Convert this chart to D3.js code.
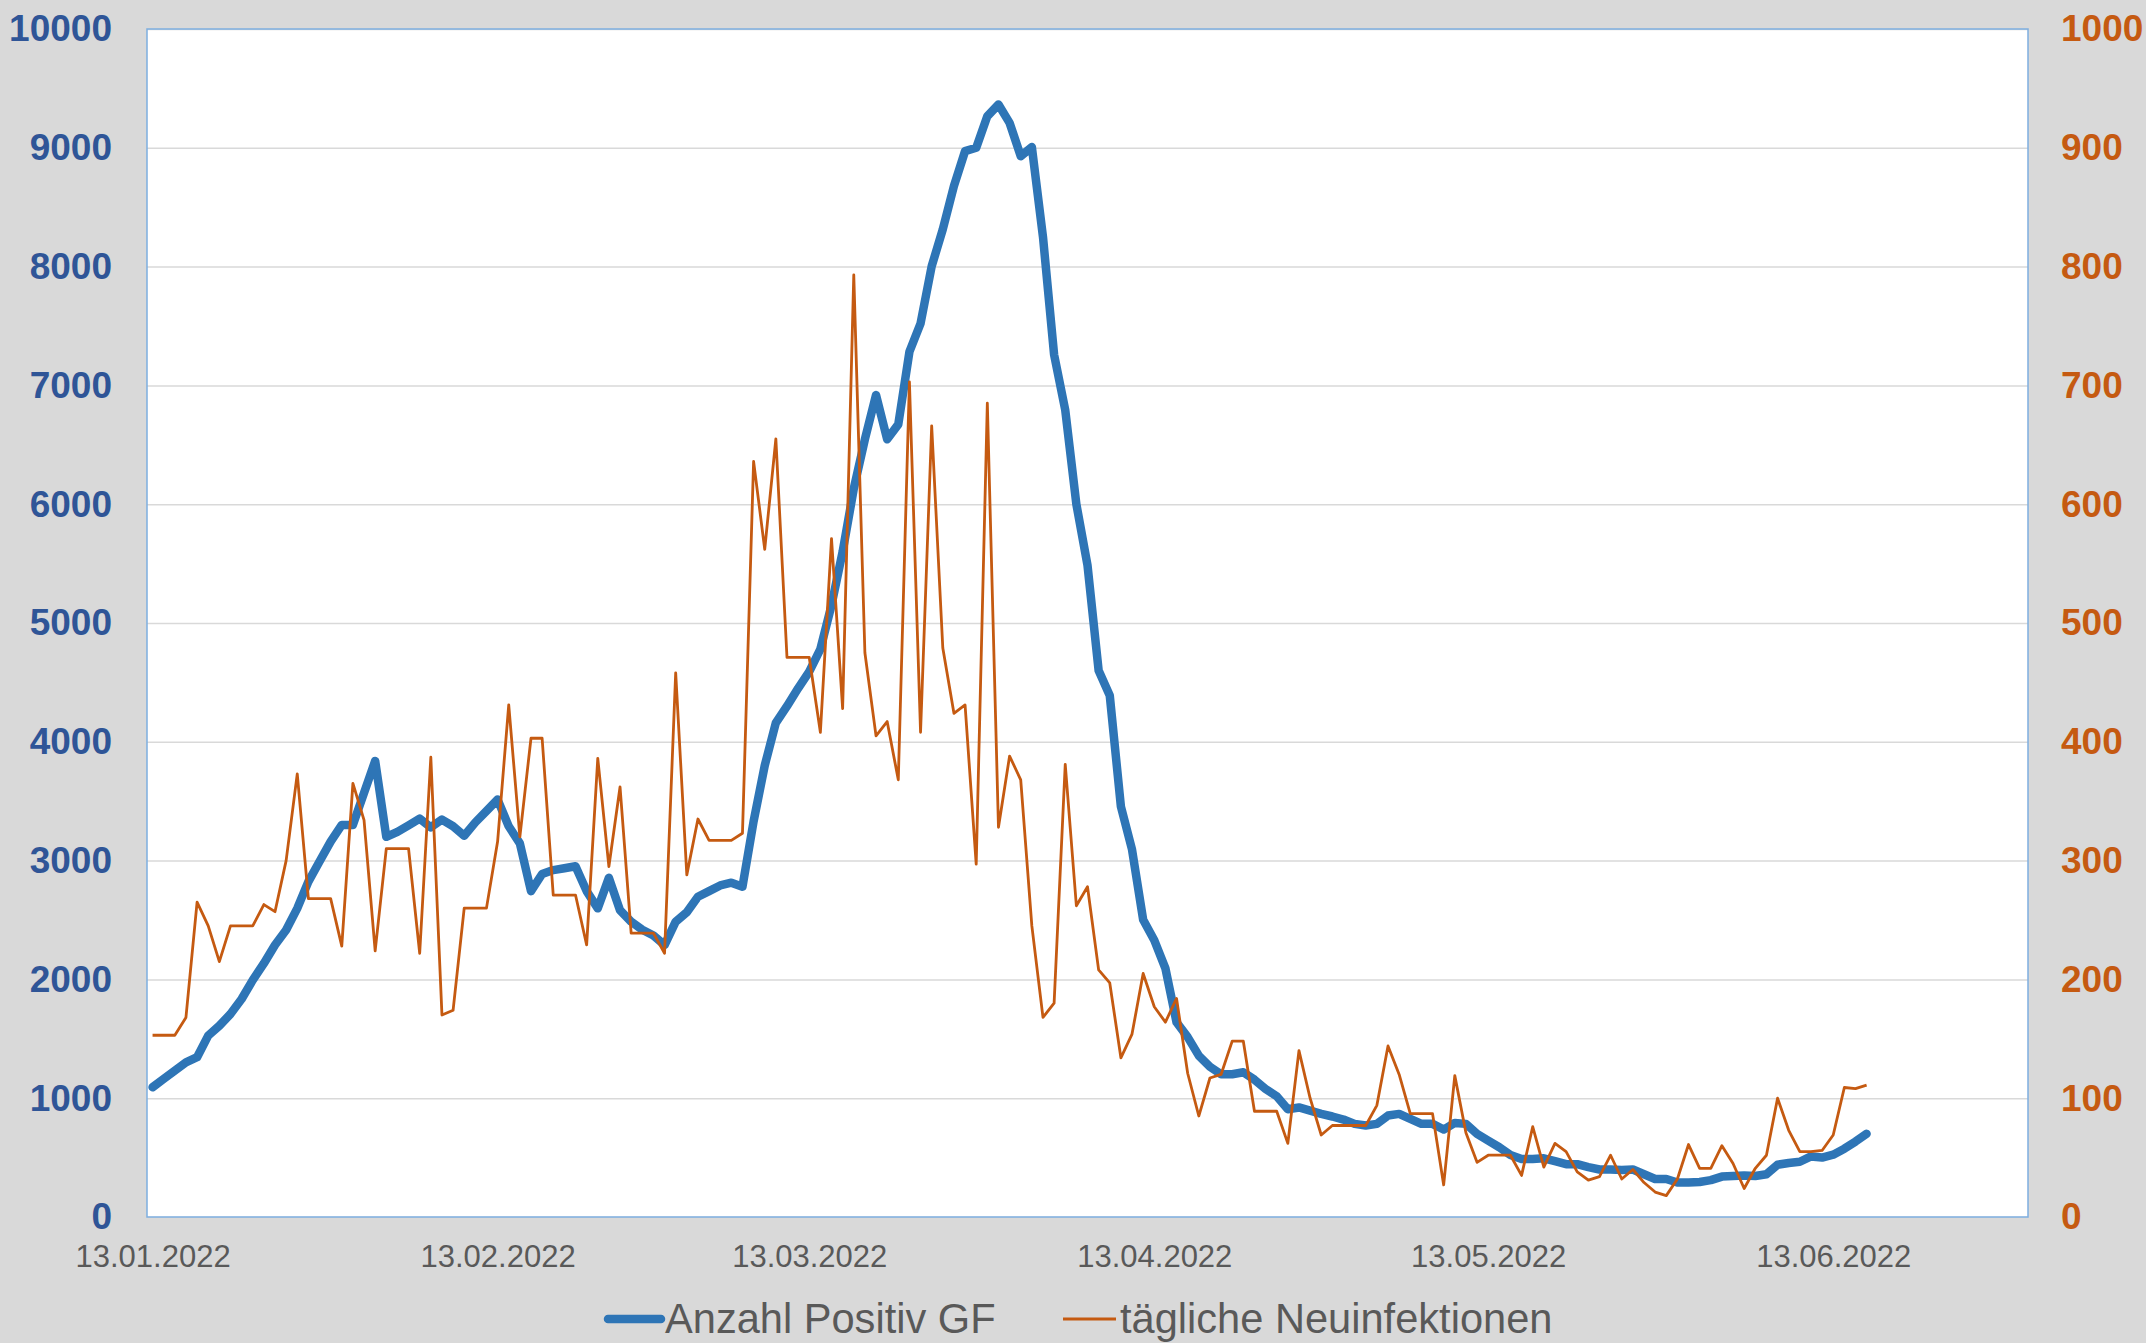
<!DOCTYPE html>
<html>
<head>
<meta charset="utf-8">
<script src="https://cdn.jsdelivr.net/npm/d3@7"></script>
<style>
  html, body { margin: 0; padding: 0; background: #d9d9d9; }
  svg { display: block; font-family: Arial, "Liberation Sans", sans-serif; }
</style>
</head>
<body>
<div id="my_dataviz"></div>
<script>
// first day of both series, one value per day
let firstDay = "2022-01-13";
let lastAxisDay = "2022-06-30";

let seriesNames = ["Anzahl Positiv GF", "tägliche Neuinfektionen"];

// Anzahl Positiv GF (left axis)
let positivGF = [
    1092, 1162, 1232, 1302, 1345, 1527, 1610, 1709, 1835, 1994,
    2134, 2290, 2416, 2598, 2823, 2992, 3160, 3300, 3300, 3570,
    3839, 3200, 3242, 3297, 3353, 3280, 3345, 3289, 3209, 3322,
    3418, 3514, 3289, 3145, 2743, 2887, 2920, 2936, 2952, 2743,
    2598, 2855, 2582, 2486, 2418, 2370, 2289, 2486, 2566, 2695,
    2743, 2791, 2814, 2780, 3330, 3800, 4160, 4300, 4450, 4590,
    4780, 5150, 5600, 6130, 6546, 6919, 6546, 6672, 7283, 7521,
    8003, 8314, 8678, 8972, 9000, 9266, 9364, 9210, 8930, 9006,
    8250, 7258, 6793, 6000, 5486, 4600, 4390, 3455, 3093, 2502,
    2330, 2093, 1639, 1514, 1358, 1265, 1202, 1202, 1218, 1156,
    1078, 1016, 907, 922, 896, 868, 846, 820, 784, 770,
    784, 854, 868, 826, 784, 784, 736, 792, 784, 699,
    643, 587, 522, 489, 489, 494, 470, 445, 445, 420,
    400, 400, 395, 400, 360, 320, 320, 290, 290, 295,
    310, 340, 345, 350, 345, 360, 440, 455, 465, 510,
    500, 525, 575, 635, 700
];

// tägliche Neuinfektionen (right axis)
let neuinfektionen = [
    153, 153, 153, 168, 265, 245, 215, 245, 245, 245,
    263, 257, 300, 373, 268, 268, 268, 228, 365, 334,
    224, 310, 310, 310, 222, 387, 170, 174, 260, 260,
    260, 316, 431, 320, 403, 403, 271, 271, 271, 229,
    386, 295, 362, 239, 239, 239, 222, 458, 288, 335,
    317, 317, 317, 323, 636, 562, 655, 471, 471, 471,
    408, 571, 428, 793, 475, 405, 417, 368, 703, 408,
    666, 479, 424, 431, 297, 685, 328, 388, 368, 245,
    168, 180, 381, 262, 278, 208, 197, 134, 154, 205,
    177, 164, 184, 121, 85, 117, 120, 148, 148, 89,
    89, 89, 62, 140, 100, 69, 77, 77, 77, 77,
    94, 144, 120, 87, 87, 87, 27, 119, 71, 46,
    52, 52, 52, 35, 76, 42, 62, 55, 38, 31,
    34, 52, 32, 40, 29, 21, 18, 32, 61, 41,
    41, 60, 45, 24, 41, 52, 100, 73, 55, 55,
    56, 69, 109, 108, 111
];

let dateTicks = ["2022-01-13", "2022-02-13", "2022-03-13", "2022-04-13", "2022-05-13", "2022-06-13"];
let leftTicks = [0, 1000, 2000, 3000, 4000, 5000, 6000, 7000, 8000, 9000, 10000];
let rightTicks = [0, 100, 200, 300, 400, 500, 600, 700, 800, 900, 1000];

let margin = {top: 29, right: 118, bottom: 126, left: 147},
    width = 2146 - margin.left - margin.right,
    height = 1343 - margin.top - margin.bottom;

let blue = "#2e75b6", orange = "#c55a11";

let parseDay = d3.timeParse("%Y-%m-%d");
let start = parseDay(firstDay);

let data = positivGF.map(function (v, i) {
    return {date: d3.timeDay.offset(start, i), gf: v, neu: neuinfektionen[i]};
});

let svg = d3.select("#my_dataviz")
    .append("svg")
    .attr("width", width + margin.left + margin.right)
    .attr("height", height + margin.top + margin.bottom)
    .append("g")
    .attr("transform", "translate(" + margin.left + "," + margin.top + ")");

// plot area
svg.append("rect")
    .attr("width", width)
    .attr("height", height)
    .attr("fill", "white");

// categories sit between tick marks -> half a day padding each side
let x = d3.scaleTime()
    .domain([d3.timeHour.offset(start, -12), d3.timeHour.offset(parseDay(lastAxisDay), 12)])
    .range([0, width]);

let yL = d3.scaleLinear().domain([0, 10000]).range([height, 0]);
let yR = d3.scaleLinear().domain([0, 1000]).range([height, 0]);

// gridlines
svg.append("g")
    .attr("class", "grid")
    .call(d3.axisLeft(yL).tickValues(leftTicks).tickSize(-width).tickFormat(""))
    .call(g => g.select(".domain").remove())
    .call(g => g.selectAll("line").attr("stroke", "#d9d9d9").attr("stroke-width", 1.5));

// left axis
svg.append("g")
    .call(d3.axisLeft(yL).tickValues(leftTicks).tickFormat(d3.format("d")).tickSize(0).tickPadding(35))
    .call(g => g.select(".domain").remove())
    .call(g => g.selectAll("text")
        .attr("fill", "#2f5597")
        .style("font-size", "37px")
        .style("font-weight", "bold")
        .style("font-family", "Arial, 'Liberation Sans', sans-serif"));

// right axis
svg.append("g")
    .attr("transform", "translate(" + width + ",0)")
    .call(d3.axisRight(yR).tickValues(rightTicks).tickFormat(d3.format("d")).tickSize(0).tickPadding(33))
    .call(g => g.select(".domain").remove())
    .call(g => g.selectAll("text")
        .attr("fill", orange)
        .style("font-size", "37px")
        .style("font-weight", "bold")
        .style("font-family", "Arial, 'Liberation Sans', sans-serif"));

// date axis
svg.append("g")
    .attr("transform", "translate(0," + height + ")")
    .call(d3.axisBottom(x)
        .tickValues(dateTicks.map(parseDay))
        .tickFormat(d3.timeFormat("%d.%m.%Y"))
        .tickSize(0)
        .tickPadding(28))
    .call(g => g.select(".domain").remove())
    .call(g => g.selectAll("text")
        .attr("fill", "#595959")
        .style("font-size", "31px")
        .style("font-family", "Arial, 'Liberation Sans', sans-serif"));

// plot border
svg.append("rect")
    .attr("width", width)
    .attr("height", height)
    .attr("fill", "none")
    .attr("stroke", "#7eaee0")
    .attr("stroke-width", 1.5);

let lineGF = d3.line()
    .x(function (d) { return x(d.date) })
    .y(function (d) { return yL(d.gf) });

let lineNeu = d3.line()
    .x(function (d) { return x(d.date) })
    .y(function (d) { return yR(d.neu) });

svg.append("path")
    .datum(data)
    .attr("d", lineGF)
    .attr("fill", "none")
    .attr("stroke", blue)
    .attr("stroke-width", 8.5)
    .attr("stroke-linejoin", "round")
    .attr("stroke-linecap", "round");

svg.append("path")
    .datum(data)
    .attr("d", lineNeu)
    .attr("fill", "none")
    .attr("stroke", orange)
    .attr("stroke-width", 2.8)
    .attr("stroke-linejoin", "round");

// legend
let legend = svg.append("g")
    .attr("transform", "translate(0," + (height + 102) + ")");

let legendItems = [
    {name: seriesNames[0], color: blue, w: 8.5, x0: 461, x1: 514, cap: "round"},
    {name: seriesNames[1], color: orange, w: 3, x0: 916, x1: 969, cap: "butt"}
];

legendItems.forEach(function (d) {
    legend.append("line")
        .attr("x1", d.x0).attr("x2", d.x1)
        .attr("y1", 0).attr("y2", 0)
        .attr("stroke", d.color)
        .attr("stroke-width", d.w)
        .attr("stroke-linecap", d.cap);
    legend.append("text")
        .attr("x", d.x1 + 4)
        .attr("y", 14)
        .attr("fill", "#595959")
        .style("font-size", "41.6px")
        .text(d.name);
});
</script>
</body>
</html>
